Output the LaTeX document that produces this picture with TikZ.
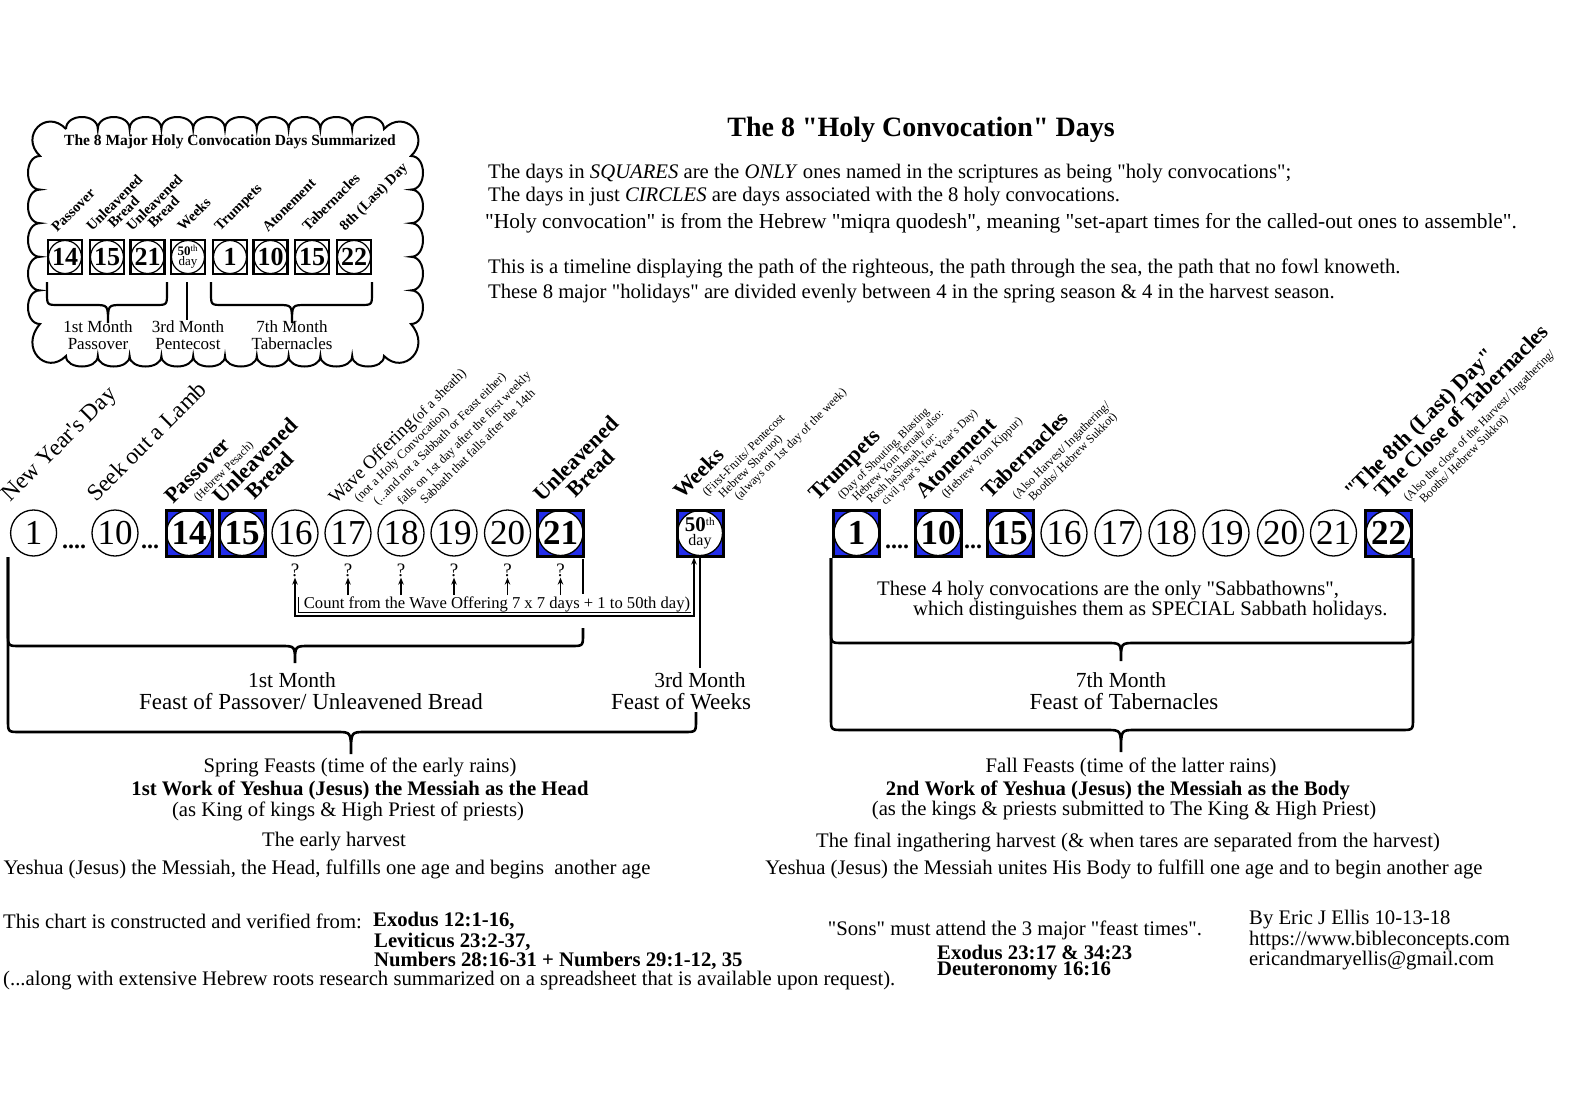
\documentclass[tikz,border=0pt]{standalone}
\usepackage{fontspec}
\setmainfont{Liberation Serif}[Ligatures=TeXOff]
\usetikzlibrary{arrows.meta}

\definecolor{holyblue}{RGB}{35,45,235}

% bracket under a group of days: [style]{x left}{x right}{x tip}{y top left}{y top right}{y line}{tip depth}
\newcommand{\bracket}[8][brk]{%
  \draw[#1] (#2,#5) -- (#2,#7-12) .. controls (#2,#7) .. (#2+12,#7) -- (#4-14,#7)
    .. controls (#4,#7) .. (#4,#7+#8) .. controls (#4,#7) .. (#4+14,#7)
    -- (#3-12,#7) .. controls (#3,#7) .. (#3,#7-12) -- (#3,#6);}

\begin{document}
\begin{tikzpicture}[x=1pt, y=-1pt,
  >={Stealth[length=7pt, width=5.5pt]},
  txt/.style={font=\fontsize{20.7}{23}\selectfont, inner sep=0pt},
  btxt/.style={font=\bfseries\fontsize{20.7}{23}\selectfont, inner sep=0pt},
  mtxt/.style={font=\fontsize{21.5}{23}\selectfont, inner sep=0pt},
  ftxt/.style={font=\fontsize{23}{24}\selectfont, inner sep=0pt},
  day/.style={circle, draw, line width=1.3pt, minimum size=46pt, inner sep=0pt, font=\fontsize{35}{35}\selectfont},
  holy/.style={rectangle, draw, line width=3pt, fill=holyblue, minimum size=46pt, inner sep=0pt,
    font=\bfseries\fontsize{35}{35}\selectfont,
    path picture={\draw[line width=1.3pt, fill=white] (path picture bounding box.center) circle (22.5pt);}},
  mini/.style={rectangle, draw, line width=2.6pt, fill=white, minimum size=34pt, inner sep=0pt,
    font=\bfseries\fontsize{26}{26}\selectfont,
    path picture={\draw[line width=1.2pt] (path picture bounding box.center) circle (16.5pt);}},
  rl/.style={rotate=45, anchor=base west, inner sep=0pt},
  feast/.style={rl, font=\bfseries\fontsize{22}{22}\selectfont},
  note/.style={rl, font=\fontsize{12}{12}\selectfont},
  clab/.style={rl, font=\bfseries\fontsize{14.5}{14.5}\selectfont},
  clm/.style={align=center, inner sep=0pt, font=\fontsize{17}{16.5}\selectfont},
  qm/.style={font=\fontsize{19}{19}\selectfont, inner sep=1pt},
  elide/.style={anchor=base, font=\bfseries\fontsize{24}{24}\selectfont, inner sep=0pt},
  brk/.style={line width=2.6pt},
  cbrk/.style={line width=2.2pt},
  cntline/.style={line width=1.2pt}
  ]
  \useasboundingbox[fill=white] (0,0) rectangle (1595,1119);

  % ---- Summary cloud ----
  \draw[line width=2pt] (66,129)
    \foreach \i in {0,...,9} { .. controls ({66+31.8*\i},113) and ({66+31.8*(\i+1)},113) .. ({66+31.8*(\i+1)},129) }
    .. controls (404,108) and (432,136) .. (411,156)
    \foreach \i in {0,...,4} { .. controls (427,{156+33.6*\i}) and (427,{156+33.6*(\i+1)}) .. (411,{156+33.6*(\i+1)}) }
    .. controls (432,348) and (404,376) .. (384,356)
    \foreach \i in {0,...,9} { .. controls ({384-31.8*\i},370) and ({384-31.8*(\i+1)},370) .. ({384-31.8*(\i+1)},356) }
    .. controls (46,376) and (19,348) .. (40,324)
    \foreach \i in {0,...,4} { .. controls (24,{324-33.6*\i}) and (24,{324-33.6*(\i+1)}) .. (40,{324-33.6*(\i+1)}) }
    .. controls (19,136) and (46,108) .. (66,129);
  \node[font=\bfseries\fontsize{15.5}{16}\selectfont] (ctitle) at (230,142) {The 8 Major Holy Convocation Days Summarized};

  \foreach \n/\x/\dd in {cpas/65/14, cub1/107/15, cub2/147.5/21, ctr/230/1, cat/270.5/10, ctb/312/15, cld/354/22}
    \node[mini] (\n) at (\x,257) {\dd};
  \node[mini, align=center, font=\fontsize{13}{10}\selectfont] (cwk) at (188,257) {\textbf{50}\textsuperscript{th}\\day};

  \node[clab] (lpas) at (57,233) {Passover};
  \node[clab] (lub1) at (92,232) {Unleavened};
  \node[clab] (lub1b) at (113.5,229) {Bread};
  \node[clab] (lub2) at (132,232) {Unleavened};
  \node[clab] (lub2b) at (153.5,229) {Bread};
  \node[clab] (lwk) at (183,232) {Weeks};
  \node[clab] (ltr) at (220,232) {Trumpets};
  \node[clab] (lat) at (268,233) {Atonement};
  \node[clab] (ltb) at (308,232) {Tabernacles};
  \node[clab] (lld) at (345,232) {8th (Last) Day};

  \bracket[cbrk]{47}{167}{108}{282}{282}{305}{18}
  \bracket[cbrk]{211}{372}{292}{282}{282}{305}{18}
  \draw[cbrk] (187,282) -- (187,320);

  \node[clm] (cm1) at (98,335) {1st Month\\Passover};
  \node[clm] (cm3) at (188,335) {3rd Month\\Pentecost};
  \node[clm] (cm7) at (292,335) {7th Month\\Tabernacles};

  % ---- Title and notes ----
  \node[font=\bfseries\fontsize{28}{28}\selectfont] (title) at (921,130) {The 8 "Holy Convocation" Days};
  \node[txt, anchor=west] (n1) at (488,174) {The days in \textit{SQUARES} are the \textit{ONLY} ones named in the scriptures as being "holy convocations";};
  \node[txt, anchor=west] (n2) at (488,197) {The days in just \textit{CIRCLES} are days associated with the 8 holy convocations.};
  \node[txt, anchor=west, font=\fontsize{21.4}{23}\selectfont] (n3) at (485,223) {"Holy convocation" is from the Hebrew "miqra quodesh", meaning "set-apart times for the called-out ones to assemble".};
  \node[txt, anchor=west] (n4) at (488,268) {This is a timeline displaying the path of the righteous, the path through the sea, the path that no fowl knoweth.};
  \node[txt, anchor=west] (n5) at (488,294) {These 8 major "holidays" are divided evenly between 4 in the spring season \& 4 in the harvest season.};

  % ---- Spring days ----
  \foreach \dd/\x in {1/33.6, 10/115, 16/295, 17/348, 18/401, 19/454, 20/507.5}
    \node[day] (s\dd) at (\x,533) {\dd};
  \foreach \dd/\x in {14/189, 15/242, 21/560.5}
    \node[holy] (s\dd) at (\x,533) {\dd};
  \node[holy, align=center, font=\fontsize{16}{14}\selectfont] (w50) at (700,533)
    {{\bfseries\fontsize{21}{18}\selectfont 50}\textsuperscript{th}\\day};
  \node[elide] (dt1) at (74,548) {....};
  \node[elide] (dt2) at (150,548) {...};

  % ---- Fall days ----
  \foreach \dd/\x in {1/856.5, 10/938, 15/1010, 22/1388.5}
    \node[holy] (f\dd) at (\x,533) {\dd};
  \foreach \dd/\x in {16/1064, 17/1118, 18/1172, 19/1226, 20/1280.5, 21/1333.5}
    \node[day] (f\dd) at (\x,533) {\dd};
  \node[elide] (dt3) at (897,548) {....};
  \node[elide] (dt4) at (973,548) {...};

  % ---- Rotated day names ----
  \node[rl, font=\fontsize{23.5}{24}\selectfont] (lnyd) at (10,503) {New Year's Day};
  \node[rl, font=\fontsize{23.5}{24}\selectfont] (lsol) at (96,503) {Seek out a Lamb};
  \node[feast] (lpass) at (173,505) {Passover};
  \node[note, font=\fontsize{11.5}{12}\selectfont] (lpass2) at (198,502) {(Hebrew Pesach)};
  \node[feast] (lunl) at (221,505) {Unleavened};
  \node[feast] (lunlb) at (254.5,501) {Bread};
  \node[rl, font=\fontsize{19}{19}\selectfont] (lwave) at (336,505) {Wave Offering{\fontsize{14}{14}\selectfont\,(of a sheath)}};
  \node[note, font=\fontsize{12.5}{12.5}\selectfont] (lwave2) at (359,503) {(not a Holy Convocation)};
  \node[note, font=\fontsize{12.5}{12.5}\selectfont] (lwave3) at (378,506) {(...and not a Sabbath or Feast either)};
  \node[note, font=\fontsize{12.5}{12.5}\selectfont] (lwave4) at (402,506) {falls on 1st day after the first weekly};
  \node[note, font=\fontsize{12.5}{12.5}\selectfont] (lwave5) at (425,505) {Sabbath that falls after the 14th};
  \node[feast] (lunl2) at (542,503) {Unleavened};
  \node[feast] (lunl2b) at (575.5,499) {Bread};
  \node[feast] (lweeks) at (682,500) {Weeks};
  \node[note] (lweeks2) at (707,497) {(First-Fruits/ Pentecost};
  \node[note] (lweeks3) at (723,499) {Hebrew Shavuot)};
  \node[note] (lweeks4) at (739,501) {(always on 1st day of the week)};
  \node[feast] (ltrump) at (817,502) {Trumpets};
  \node[note, font=\fontsize{11.5}{11.5}\selectfont] (ltrump2) at (842,500) {(Day of Shouting, Blasting};
  \node[note, font=\fontsize{11.5}{11.5}\selectfont] (ltrump3) at (856.5,502) {Hebrew Yom Teruah/ also:};
  \node[note, font=\fontsize{11.5}{11.5}\selectfont] (ltrump4) at (871,504) {Rosh haShanah, for:};
  \node[note, font=\fontsize{11.5}{11.5}\selectfont] (ltrump5) at (885.5,506) {civil year's New Year's Day)};
  \node[feast] (laton) at (924,500) {Atonement};
  \node[note] (laton2) at (946,499) {(Hebrew Yom Kippur)};
  \node[feast] (ltab) at (990,500) {Tabernacles};
  \node[note] (ltab2) at (1017,500) {(Also Harvest/ Ingathering/};
  \node[note] (ltab3) at (1033,502) {Booths/ Hebrew Sukkot)};
  \node[feast] (llast) at (1353,500) {"The 8th (Last) Day"};
  \node[feast] (llast2) at (1383,500) {The Close of Tabernacles};
  \node[note] (llast3) at (1408,502) {(Also the close of the Harvest/ Ingathering/};
  \node[note] (llast4) at (1424,504) {Booths/ Hebrew Sukkot)};

  % ---- Brackets ----
  \bracket{8}{583}{295}{557}{628}{646}{17}
  \draw[brk] (583,559) -- (583,594);
  \bracket{8}{696}{351}{557}{712}{732}{22}
  \bracket{831}{1413}{1121}{558}{558}{643}{18}
  \bracket{831}{1413}{1121}{558}{558}{730}{22}
  \draw[brk] (w50.south) -- (700,668);

  % ---- Counting the omer ----
  \foreach \dd in {16,...,21}
    \node[qm] (q\dd) at ([yshift=-37pt]s\dd.center) {?};
  \node[txt, font=\fontsize{16.6}{18}\selectfont, fill=white, inner sep=1pt] (cnt) at (497,604) {Count from the Wave Offering 7 x 7 days + 1 to 50th day)};
  \foreach \dd in {17,...,21}
    \draw[cntline, ->] (q\dd |- cnt.north) -- (q\dd.south);
  \coordinate (cb) at (694,616);
  \draw[cntline, <->] (q16.south) |- (cb) -- (cb |- w50.south);
  \draw[cntline] (298.5,597) |- (690.5,612.5);

  % ---- Month labels ----
  \node[mtxt] (mon1) at (292,680) {1st Month};
  \node[ftxt] (fp1) at (311,702) {Feast of Passover/ Unleavened Bread};
  \node[mtxt] (mon3) at (700,680) {3rd Month};
  \node[ftxt] (fw3) at (681,702) {Feast of Weeks};
  \node[mtxt] (mon7) at (1121,680) {7th Month};
  \node[ftxt] (ft7) at (1124,702) {Feast of Tabernacles};
  \node[txt, anchor=west] (sab1) at (877,591) {These 4 holy convocations are the only "Sabbathowns",};
  \node[txt, anchor=west] (sab2) at (913,611) {which distinguishes them as SPECIAL Sabbath holidays.};

  % ---- Seasons ----
  \node[txt] (sp1) at (360,767) {Spring Feasts (time of the early rains)};
  \node[btxt] (sp2) at (360,790) {1st Work of Yeshua (Jesus) the Messiah as the Head};
  \node[txt] (sp3) at (348,811) {(as King of kings \& High Priest of priests)};
  \node[txt] (sp4) at (334,842) {The early harvest};
  \node[txt] (sp5) at (327,869) {Yeshua (Jesus) the Messiah, the Head, fulfills one age and begins\ \ another age};
  \node[txt] (fa1) at (1131,767) {Fall Feasts (time of the latter rains)};
  \node[btxt] (fa2) at (1118,790) {2nd Work of Yeshua (Jesus) the Messiah as the Body};
  \node[txt] (fa3) at (1124,811) {(as the kings \& priests submitted to The King \& High Priest)};
  \node[txt] (fa4) at (1128,842) {The final ingathering harvest (\& when tares are separated from the harvest)};
  \node[txt] (fa5) at (1124,869) {Yeshua (Jesus) the Messiah unites His Body to fulfill one age and to begin another age};

  % ---- Sources ----
  \node[txt, anchor=west] (src) at (3,921) {This chart is constructed and verified from:};
  \node[btxt, anchor=west] (ref1) at (373,921) {Exodus 12:1-16,};
  \node[btxt, anchor=west] (ref2) at (374,942) {Leviticus 23:2-37,};
  \node[btxt, anchor=west] (ref3) at (374,961) {Numbers 28:16-31 + Numbers 29:1-12, 35};
  \node[txt, anchor=west] (src2) at (3,981) {(...along with extensive Hebrew roots research summarized on a spreadsheet that is available upon request).};
  \node[txt] (sons) at (1015,930) {"Sons" must attend the 3 major "feast times".};
  \node[btxt, anchor=west] (ref4) at (937,952) {Exodus 23:17 \& 34:23};
  \node[btxt, anchor=west] (ref5) at (937,971) {Deuteronomy 16:16};
  \node[txt, anchor=west] (by) at (1249,920) {By Eric J Ellis 10-13-18};
  \node[txt, anchor=west] (url) at (1249,941) {https://www.bibleconcepts.com};
  \node[txt, anchor=west] (mail) at (1249,961) {ericandmaryellis@gmail.com};
\end{tikzpicture}
\end{document}
